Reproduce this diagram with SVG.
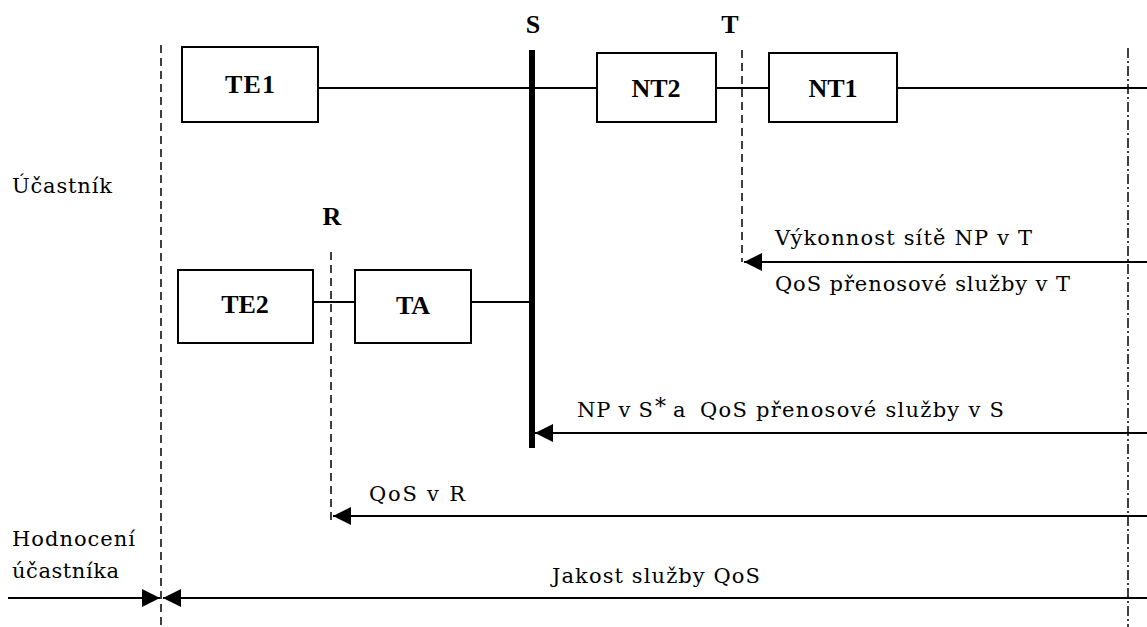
<svg xmlns="http://www.w3.org/2000/svg" width="1147" height="627" viewBox="0 0 1147 627">
<style>
.box{fill:#fff;stroke:#000;stroke-width:2}
.ln{fill:none;stroke:#000;stroke-width:2}
.dash{fill:none;stroke:#000;stroke-width:1.5;stroke-dasharray:8 5}
.dd{fill:none;stroke:#000;stroke-width:1.5;stroke-dasharray:10 3 2 3}
.lbl{font-family:"Liberation Serif","Times New Roman",serif;font-weight:bold;font-size:26px;fill:#000;text-anchor:middle}
.t{font-family:"DejaVu Serif","Liberation Serif",serif;font-size:21px;fill:#000}
</style>
<defs>
<marker id="ah" viewBox="0 0 18 18" refX="18" refY="9" markerWidth="18" markerHeight="18" markerUnits="userSpaceOnUse" orient="auto">
<path d="M0,0 L18,9 L0,18 Z" fill="#000"/>
</marker>
</defs>
<rect width="1147" height="627" fill="#fff"/>
<g id="connectors">
<path class="ln" d="M318,88 H597 M716,88 H769 M897,88 H1147"/>
<path class="ln" d="M313,302 H355 M471,302 H531"/>
<path class="dash" d="M161,45 V627"/>
<path class="dash" d="M742,50 V262"/>
<path class="dash" d="M331,252 V525"/>
<path class="dd" d="M1128,48 V627"/>
<path d="M532,50 V448" stroke="#000" stroke-width="6" fill="none"/>
<path class="ln" d="M1147,262 H744" marker-end="url(#ah)"/>
<path class="ln" d="M1147,433 H535" marker-end="url(#ah)"/>
<path class="ln" d="M1147,516 H333" marker-end="url(#ah)"/>
<path class="ln" d="M1147,598 H163" marker-end="url(#ah)"/>
<path class="ln" d="M8,598 H160" marker-end="url(#ah)"/>
</g>
<g id="TE1"><rect class="box" x="182" y="47" width="136" height="75"/><text class="lbl" x="250" y="93" textLength="50" lengthAdjust="spacing">TE1</text></g>
<g id="NT2"><rect class="box" x="597" y="53" width="119" height="69"/><text class="lbl" x="656" y="97">NT2</text></g>
<g id="NT1"><rect class="box" x="769" y="53" width="128" height="69"/><text class="lbl" x="833" y="97">NT1</text></g>
<g id="TE2"><rect class="box" x="178" y="270" width="135" height="73"/><text class="lbl" x="245" y="313">TE2</text></g>
<g id="TA"><rect class="box" x="355" y="270" width="116" height="73"/><text class="lbl" x="413" y="314">TA</text></g>
<g id="labels">
<text class="lbl" x="533" y="33">S</text>
<text class="lbl" x="730" y="33">T</text>
<text class="lbl" x="332" y="225">R</text>
<text class="t" x="12" y="193" textLength="100" lengthAdjust="spacing">Účastník</text>
<text class="t" x="775" y="245" textLength="257" lengthAdjust="spacing">Výkonnost sítě NP v T</text>
<text class="t" x="775" y="291" textLength="295" lengthAdjust="spacing">QoS přenosové služby v T</text>
<text class="t" x="577" y="417" textLength="76" lengthAdjust="spacing">NP v S</text>
<text class="t" x="655" y="414" style="font-size:22px">*</text>
<text class="t" x="673" y="417">a</text>
<text class="t" x="700" y="417" textLength="304" lengthAdjust="spacing">QoS přenosové služby v S</text>
<text class="t" x="369" y="501" textLength="96" lengthAdjust="spacing">QoS v R</text>
<text class="t" x="12" y="546" textLength="123" lengthAdjust="spacing">Hodnocení</text>
<text class="t" x="12" y="578" textLength="107" lengthAdjust="spacing">účastníka</text>
<text class="t" x="552" y="583" textLength="208" lengthAdjust="spacing">Jakost služby QoS</text>
</g>
</svg>
